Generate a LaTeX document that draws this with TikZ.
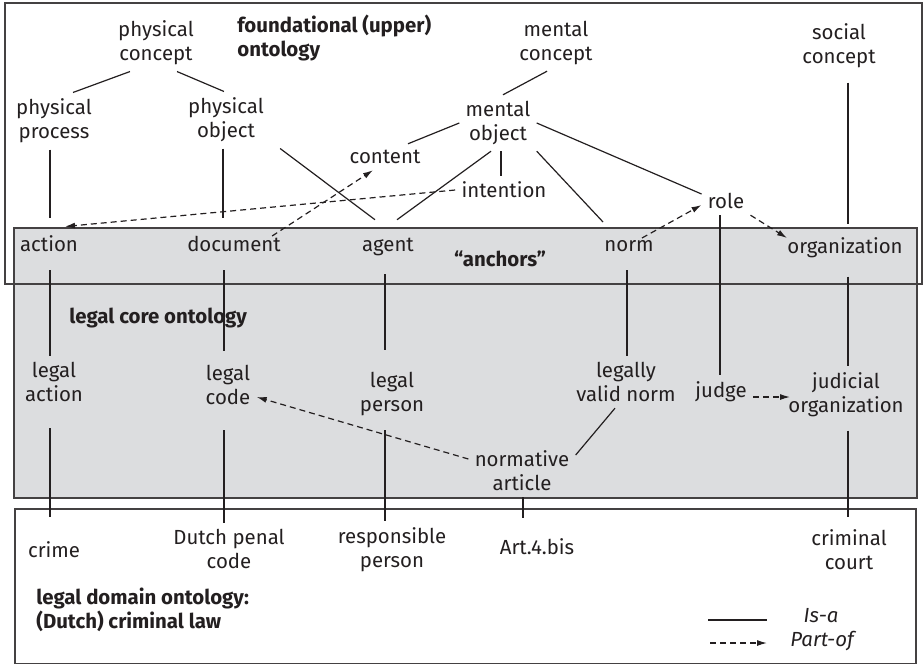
\documentclass[tikz,border=0pt]{standalone}
\usepackage{fontspec}
\setmainfont{Fira Sans}
\usetikzlibrary{arrows.meta}
\definecolor{ink}{HTML}{231F20}
\definecolor{coregrey}{HTML}{DCDDDF}
\begin{document}
\begin{tikzpicture}[x=0.5pt, y=-0.5pt,
    every node/.style={font=\fontsize{10.2pt}{12pt}\selectfont, text=ink},
    concept/.style={align=center, inner sep=3pt},
    anchorc/.style={concept, inner ysep=9pt},
    layer/.style={font=\fontsize{10.2pt}{12pt}\selectfont\bfseries, align=left, anchor=west, inner sep=0pt},
    isa/.style={draw=ink, line width=0.6pt},
    partof/.style={isa, dash pattern=on 3pt off 2pt, -{Latex[length=5pt,width=3pt]}}]
    \useasboundingbox (0,0) rectangle (924,665);

    % Layers: core (grey), foundational and domain frames
    \fill[coregrey] (14,228) rectangle (917,498);
    \draw[ink!85, line width=0.6pt] (14,228) rectangle (917,498);
    \draw[ink!85, line width=0.6pt] (5,3) rectangle (922,284);
    \draw[ink!85, line width=0.6pt] (15,509) rectangle (916,663.5);

    \node[layer] (upper) at (237,38) {foundational (upper)\\ontology};
    \node[layer] (core) at (69,318) {legal core ontology};
    \node[layer] (domain) at (36,610) {legal domain ontology:\\(Dutch) criminal law};
    \node[font=\fontsize{10.2pt}{12pt}\selectfont\bfseries] (anch) at (500,259) {``anchors''};

    % Foundational concepts
    \node[concept] (pc) at (156,43) {physical\\concept};
    \node[concept] (pp) at (54,121) {physical\\process};
    \node[concept] (po) at (226,120) {physical\\object};
    \node[concept] (mc) at (556,43) {mental\\concept};
    \node[concept] (mo) at (498,123) {mental\\object};
    \node[concept] (sc) at (839,46) {social\\concept};
    \node[concept] (content) at (385,157) {content};
    \node[concept] (intention) at (504,190) {intention};
    \node[concept] (role) at (726,201) {role};

    % Anchors
    \node[anchorc] (action) at (49,244) {action};
    \node[anchorc] (document) at (234,244) {document};
    \node[anchorc] (agent) at (388,247) {agent};
    \node[anchorc] (norm) at (629,246) {norm};
    \node[anchorc] (org) at (845,248) {organization};

    % Legal core concepts
    \node[concept] (lact) at (54,382) {legal\\action};
    \node[concept] (lcode) at (228,385) {legal\\code};
    \node[concept] (lpers) at (392,394) {legal\\person};
    \node[concept] (lvnorm) at (626,382) {legally\\valid norm};
    \node[concept] (judge) at (721,392) {judge};
    \node[concept] (jorg) at (846,395) {judicial\\organization};
    \node[concept] (nart) at (522,471) {normative\\article};

    % Domain concepts
    \node[concept] (crime) at (54,550) {crime};
    \node[concept] (dpc) at (229,549) {Dutch penal\\code};
    \node[concept] (rpers) at (392,550) {responsible\\person};
    \node[concept] (art) at (537,547) {Art.4.bis};
    \node[concept] (ccourt) at (849,550) {criminal\\court};

    % Is-a, vertical (shift/start/end)
    \foreach \a/\b/\d/\s/\e in {pp/action/-2pt/0pt/0pt, po/document/-1.5pt/0pt/0pt,
        sc/org/4.5pt/4pt/-2.5pt, mo/intention/1.5pt/0pt/0pt, role/judge/-3pt/0pt/0pt,
        action/lact/0.5pt/0pt/0pt, document/lcode/-5pt/0pt/4pt, agent/lpers/-1.5pt/0pt/8pt,
        norm/lvnorm/-1pt/0pt/0pt, org/jorg/1.5pt/0pt/0pt, lact/crime/-2pt/10pt/9.5pt,
        lcode/dpc/-2pt/9.5pt/0pt, lpers/rpers/-3.5pt/4pt/0pt, nart/art/0.5pt/0pt/7.5pt,
        jorg/ccourt/1pt/3.5pt/3.5pt}
        \draw[isa, shorten <=\s, shorten >=\e] ([xshift=\d]\a.south) -- ([xshift=\d]\a.south |- \b.north);

    % Is-a, slanted
    \draw[isa] ([xshift=-13pt]pc.south) -- ([xshift=9.5pt]pp.north);
    \draw[isa] ([xshift=10.5pt]pc.south) -- ([xshift=-1pt]po.north);
    \draw[isa] ([xshift=-4.5pt]mc.south) -- ([xshift=2.5pt]mo.north);
    \draw[isa] (mo.west) -- ([xshift=11.5pt]content.north);
    \draw[isa] ([xshift=5pt]po.south east) -- ([xshift=-6.5pt]agent.north);
    \draw[isa] ([xshift=-3.5pt]mo.south) -- ([xshift=4.5pt]agent.north);
    \draw[isa] (mo.south east) -- ([xshift=-13pt]norm.north);
    \draw[isa] (mo.east) -- ([yshift=3.5pt]role.west);
    \draw[isa] ([xshift=-5.5pt]lvnorm.south) -- ([yshift=8pt]nart.east);

    % Part-of
    \draw[partof] (intention.west) -- ([xshift=8pt,yshift=-4.5pt]action.north);
    \draw[partof] ([shift={(-7.5pt,4pt)}]document.east) -- ([xshift=-6pt]content.south);
    \draw[partof] ([xshift=6.5pt,yshift=-8pt]norm.north) -- ([yshift=-2pt]role.west);
    \draw[partof] (role.south east) -- ([xshift=3pt,yshift=5pt]org.west);
    \draw[partof] ([yshift=-2.5pt]judge.east) -- ([xshift=4pt,yshift=-1pt]jorg.west);
    \draw[partof] ([yshift=6pt]nart.west) -- ([yshift=-6pt]lcode.east);

    % Legend
    \coordinate (isa1) at (708,620);
    \coordinate (isa2) at (767,620);
    \coordinate (pof1) at (710,643);
    \coordinate (pof2) at (767,643);
    \draw[isa] (isa1) -- (isa2);
    \draw[partof] (pof1) -- (pof2);
    \node[font=\fontsize{10.2pt}{12pt}\selectfont\itshape] (isalab) at (821,616) {Is-a};
    \node[font=\fontsize{10.2pt}{12pt}\selectfont\itshape] (poflab) at (822,641) {Part-of};
\end{tikzpicture}
\end{document}
